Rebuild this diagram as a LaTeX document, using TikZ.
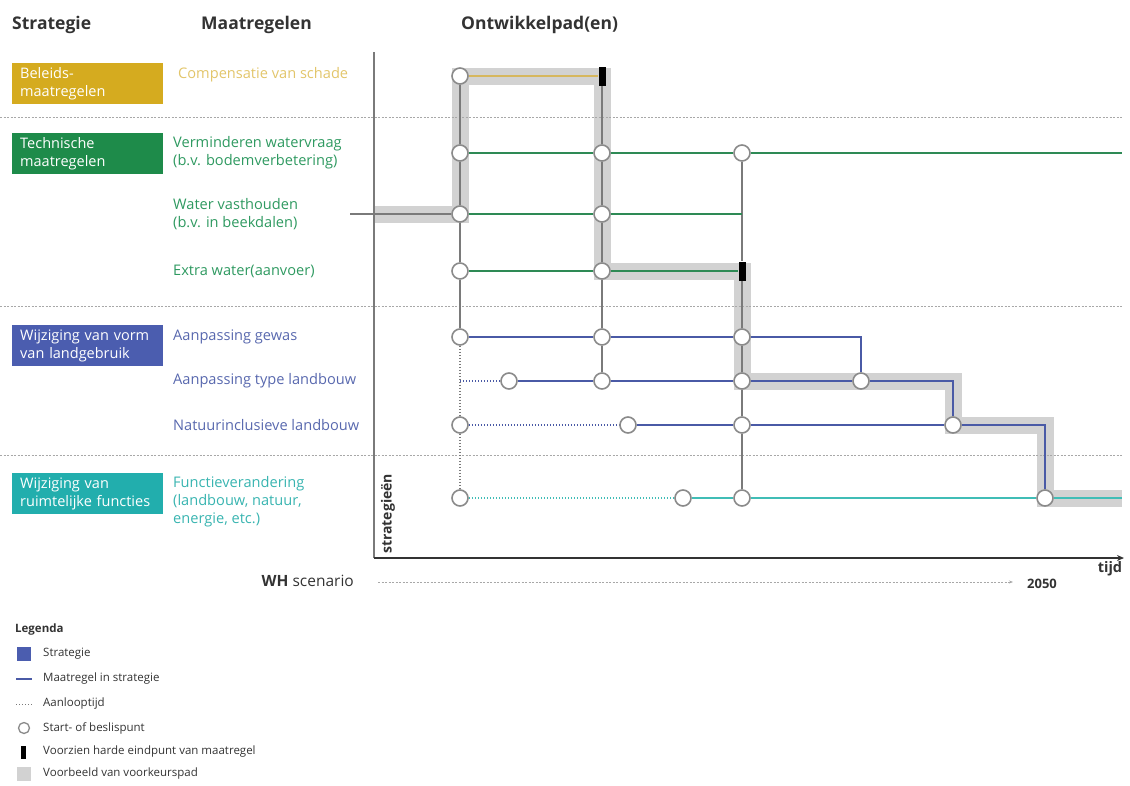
\documentclass[tikz,border=0pt]{standalone}
\usepackage{fontspec}
\setmainfont{Open Sans}
\usetikzlibrary{arrows.meta}

\definecolor{goldbox}{HTML}{D5AB1F}
\definecolor{goldtext}{HTML}{E2C56A}
\definecolor{goldline}{HTML}{D6B75E}
\definecolor{greenbox}{HTML}{1E8B4A}
\definecolor{greentext}{HTML}{2E9960}
\definecolor{greenline}{HTML}{2E8A55}
\definecolor{bluebox}{HTML}{4B5DAF}
\definecolor{bluetext}{HTML}{5868AE}
\definecolor{blueline}{HTML}{4A5AA6}
\definecolor{tealbox}{HTML}{22AEAD}
\definecolor{tealtext}{HTML}{38B4B0}
\definecolor{tealline}{HTML}{40BDB6}
\definecolor{ptgray}{HTML}{8A8A8A}
\definecolor{lijngray}{HTML}{7A7A7A}
\definecolor{sepgray}{HTML}{A8A8A8}
\definecolor{bandgray}{HTML}{D2D2D2}
\definecolor{kopgray}{HTML}{333333}

\pgfdeclarelayer{band}
\pgfdeclarelayer{lines}
\pgfsetlayers{band,lines,main}

\begin{document}
\begin{tikzpicture}[x=1pt, y=-1pt,
        kop/.style = {font=\fontsize{17.5}{20}\selectfont\bfseries, text=kopgray, anchor=west, inner sep=0pt},
        sbox/.style = {anchor=north west, minimum height=41pt, text width=135pt, inner xsep=8pt, inner ysep=0pt, align=left, text=white, font=\fontsize{14.5}{18}\selectfont},
        mtext/.style = {anchor=west, align=left, inner sep=0pt, font=\fontsize{14.6}{18}\selectfont},
        legtext/.style = {anchor=west, inner sep=0pt, text=kopgray, font=\fontsize{11.5}{13}\selectfont},
        bpunt/.style = {circle, draw=ptgray, line width=1.6pt, fill=white, minimum size=16pt, inner sep=0pt},
        eind/.style = {fill=black, minimum width=7pt, minimum height=19pt, inner sep=0pt},
        verbind/.style = {draw=lijngray, line width=1.5pt},
        maatr/.style = {line width=2pt},
        aanloop/.style = {line width=1.3pt, dash pattern=on 1.3pt off 1.7pt},
        scheiding/.style = {draw=sepgray, line width=0.8pt, dash pattern=on 2pt off 1.5pt},
        voorkeur/.style = {draw=bandgray, line width=17pt, line join=miter}
    ]

        \useasboundingbox (0,0) rectangle (1130,785);

        % Column headers.
        \node[kop] (hstrat) at (12,25) {Strategie};
        \node[kop] (hmaat) at (201,25) {Maatregelen};
        \node[kop] (hpad) at (461,25) {Ontwikkelpad(en)};

        % Strategy boxes.
        \node[sbox, fill=goldbox] (beleid) at (12,63) {Beleids-\\maatregelen};
        \node[sbox, fill=greenbox] (techn) at (12,133) {Technische\\maatregelen};
        \node[sbox, fill=bluebox] (vorm) at (12,325) {Wijziging van vorm\\van landgebruik};
        \node[sbox, fill=tealbox] (ruimte) at (12,473) {Wijziging van\\ruimtelijke functies};

        % Measures.
        \node[mtext, text=goldtext] (m0) at (178,75) {Compensatie van schade};
        \node[mtext, text=greentext] (m1) at (173,153) {Verminderen watervraag\\(b.v. bodemverbetering)};
        \node[mtext, text=greentext] (m2) at (173,214) {Water vasthouden\\(b.v. in beekdalen)};
        \node[mtext, text=greentext] (m3) at (173,271) {Extra water(aanvoer)};
        \node[mtext, text=bluetext] (m4) at (173,337) {Aanpassing gewas};
        \node[mtext, text=bluetext] (m5) at (173,381) {Aanpassing type landbouw};
        \node[mtext, text=bluetext] (m6) at (173,425) {Natuurinclusieve landbouw};
        \node[mtext, text=tealtext] (m7) at (173,502) {Functieverandering\\(landbouw, natuur,\\energie, etc.)};

        % Start and decision points.
        \foreach \n/\px/\py in {a0/460/76, a1/460/153, b1/602/153, c1/742/153,
                a2/460/214, b2/602/214, a3/460/271, b3/602/271,
                a4/460/337, b4/602/337, c4/742/337, p5/509/381, b5/602/381,
                c5/742/381, d5/861/381, a6/460/425, p6/628/425, c6/742/425,
                f6/953/425, a7/460/498, p7/683/498, c7/742/498, g7/1045/498}{%
            \node[bpunt] (\n) at (\px,\py) {};
        }

        % Hard end points.
        \node[eind] (b0) at (602,76) {};
        \node[eind] (c3) at (742,271) {};

        % Corners and free ends.
        \coordinate (s2) at (350,214);
        \coordinate (sb) at (375,214);
        \coordinate (c2) at (742,214);
        \coordinate (d4) at (861,337);
        \coordinate (a5) at (460,381);
        \coordinate (f5) at (953,381);
        \coordinate (g6) at (1045,425);
        \coordinate (e1) at (1122,153);
        \coordinate (e7) at (1122,498);

        % Example of a preferred path.
        \begin{pgfonlayer}{band}
            \draw[voorkeur] (sb) -- (a2.center) -- (a0.center) -- (b0.center) -- (b3.center)
                -- (c3.center) -- (c5.center) -- (f5) -- (f6.center) -- (g6) -- (g7.center) -- (e7);
        \end{pgfonlayer}

        \begin{pgfonlayer}{lines}
            % Dashed separators between strategies.
            \foreach \sy in {117, 306, 455}{%
                \draw[scheiding] (0,\sy) -- (1122,\sy);
            }

            % Grey connectors between decision points.
            \draw[verbind] (s2) -- (a2);
            \draw[verbind] (a0) -- (a1) -- (a2) -- (a3) -- (a4);
            \draw[verbind, aanloop] (a4) -- (a5) -- (a6) -- (a7);
            \draw[verbind] (b0) -- (b1) -- (b2) -- (b3) -- (b4) -- (b5);
            \draw[verbind] (c1) -- (c2) -- (c3) -- (c4) -- (c5) -- (c6) -- (c7);

            % Measures in the strategies.
            \draw[maatr, goldline] (a0) -- (b0);
            \draw[maatr, greenline] (a1) -- (b1) -- (c1) -- (e1);
            \draw[maatr, greenline] (a2) -- (b2) -- (c2);
            \draw[maatr, greenline] (a3) -- (b3) -- (c3);
            \draw[maatr, blueline] (a4) -- (b4) -- (c4) -- (d4) -- (d5);
            \draw[maatr, blueline] (p5) -- (b5) -- (c5) -- (d5) -- (f5) -- (f6);
            \draw[maatr, blueline] (p6) -- (c6) -- (f6) -- (g6) -- (g7);
            \draw[maatr, tealline] (p7) -- (c7) -- (g7) -- (e7);

            % Lead times.
            \draw[aanloop, blueline] (a5) -- (p5);
            \draw[aanloop, blueline] (a6) -- (p6);
            \draw[aanloop, tealline] (a7) -- (p7);
        \end{pgfonlayer}

        % Axes.
        \coordinate (ytop) at (374,52);
        \coordinate (oorsprong) at (374,558);
        \coordinate (xeind) at (1124,558);
        \draw[draw=lijngray, line width=1.5pt] (ytop) -- (oorsprong);
        \draw[line width=1.3pt, draw=kopgray, -{Stealth[length=7pt, width=6pt]}] (oorsprong) -- (xeind);
        \node[rotate=90, anchor=west, inner sep=0pt, font=\fontsize{14}{16}\selectfont\bfseries, text=kopgray] (strat) at (388,554) {strategieën};
        \node[anchor=north, inner sep=0pt, font=\fontsize{14.5}{16}\selectfont\bfseries, text=kopgray] (tijd) at (1110,561) {tijd};

        % Scenario.
        \node[anchor=east, inner sep=0pt, font=\fontsize{15.5}{18}\selectfont, text=kopgray] (wh) at (354,581) {\textbf{WH} scenario};
        \coordinate (whstart) at (378,582);
        \coordinate (wheind) at (1013,582);
        \draw[draw=sepgray, line width=0.8pt, dash pattern=on 2pt off 1.5pt, -{Stealth[length=4pt, width=3pt]}] (whstart) -- (wheind);
        \node[anchor=west, inner sep=0pt, font=\fontsize{13}{15}\selectfont\bfseries, text=kopgray] (jaar) at (1027,584) {2050};

        % Legend.
        \node[anchor=west, inner sep=0pt, font=\fontsize{11.5}{13}\selectfont\bfseries, text=kopgray] (leg) at (15,630) {Legenda};
        \node[fill=bluebox, minimum size=14pt, inner sep=0pt] (lg1) at (24,654) {};
        \coordinate (lg2a) at (16,679);
        \coordinate (lg2b) at (32,679);
        \draw[blueline, line width=1.3pt] (lg2a) -- (lg2b);
        \coordinate (lg3a) at (16,704);
        \coordinate (lg3b) at (32,704);
        \draw[aanloop, draw=lijngray, line width=1pt] (lg3a) -- (lg3b);
        \node[bpunt, minimum size=11pt, line width=1.3pt] (lg4) at (24,728) {};
        \node[eind, minimum width=5pt, minimum height=13pt] (lg5) at (23,752) {};
        \node[fill=bandgray, minimum size=14pt, inner sep=0pt] (lg6) at (24,774) {};
        \node[legtext] (lt1) at (43,654) {Strategie};
        \node[legtext] (lt2) at (43,679) {Maatregel in strategie};
        \node[legtext] (lt3) at (43,704) {Aanlooptijd};
        \node[legtext] (lt4) at (43,728) {Start- of beslispunt};
        \node[legtext] (lt5) at (43,752) {Voorzien harde eindpunt van maatregel};
        \node[legtext] (lt6) at (43,774) {Voorbeeld van voorkeurspad};
    \end{tikzpicture}
\end{document}
